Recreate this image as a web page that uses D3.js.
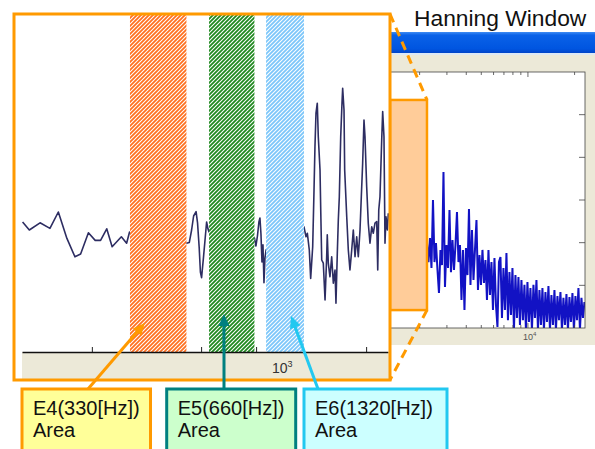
<!DOCTYPE html>
<html><head><meta charset="utf-8">
<script src="https://cdn.jsdelivr.net/npm/d3@7"></script>
<style>html,body{margin:0;padding:0;background:#fff;}svg{display:block;font-family:"Liberation Sans",Arial,sans-serif;}</style>
</head><body><svg id="c" width="595" height="449"></svg>
<script>
// ---------- DATA ----------
const titleText = "Hanning Window";
// zoomed spectrum (frequency Hz, level)
const zoomFreq = [126,133,145,157,168,180,192,201,214,226,236,248,259,279,291,298,
 471,482,491,499,509,515,522,527,532,540,547,554,560,565,
 814,824,834,844,851,858,865,872,879,886,894,
 1213,1233,1246,1266,1280,1301,1315,1325,1336,1350,1361,1380,1388,1399,1417,1437,1456,1463,1475,1495,
 1516,1536,1557,1569,1586,1599,1612,1630,1647,1656,1674,1683,1711,1733,1756,1781,1804,1829,1854,1878,
 1904,1924,1945,1966,1982,2009,2035,2063,2092,2119,2148,2178,2196,2214,2236,2267,2285,2309,2328,2347,2372,2391];
const zoomLevel = [32.5,30.5,32.3,30.9,35,28.4,23.8,24.5,29.8,27.9,27.9,30.8,26.3,28.8,27.2,30,
 27.2,27.4,30.5,34,35.1,32.3,26,20,18.6,23.5,28,32.5,30.8,30,
 28.5,26.5,29,32.5,33.5,29.5,22.5,26.8,17.3,23.5,25.5,
 31.3,28.8,29.7,25.5,18.4,26.3,40.5,51.3,59.7,62.2,53.8,45.5,35.5,23,22.2,13,23.8,29.3,22.2,18.8,
 23.8,17.2,20.5,12.2,24.7,33,38.8,53.8,62.2,65.9,60.5,45.5,33.8,25.5,20.5,25.5,30.5,23.8,28.8,23.8,
 30.5,38.8,47.2,58,53.8,41.3,32.2,27.2,31.3,29.7,32.2,32.6,20.5,35.5,38.8,53,60.1,53.8,27.2,33.8,30.5,34.7];
const zoomTicks = [220, 530, 825, 2000];
const zoomLabelFreq = 1000;
// bands
const bandNames = ["E4(330[Hz])", "E5(660[Hz])", "E6(1320[Hz])"];
const bandSub = ["Area", "Area", "Area"];
const bandLow = [299, 565, 894];
const bandHigh = [471, 814, 1213];
const arrowFreq = [337, 637, 1093];
const arrowLevel = [7.25, 9.5, 9];
// full spectrum (background window)
const fullFreq = [2231,2281,2333,2385,2439,2494,2550,2608,2666,2726,2788,2851,2915,2981,3048,3117,3187,3259,3332,3407,
 3484,3562,3643,3725,3809,3894,3982,4072,4164,4258,4353,4452,4552,4655,4759,4867,4976,5088,5203,5320,
 5440,5563,5688,5816,5947,6081,6218,6358,6501,6648,6798,6951,7107,7267,7431,7598,7770,7945,8124,8307,
 8494,8685,8881,9081,9286,9495,9709,9928,10152,10380,10614,10854,11098,11348,11604,11866,12133,12406,12686,12972,
 13264,13563,13869,14181,14501,14828,15162,15504,15853,16210,16576,16949,17331,17722,18121,18530,18947,19374,19811,20257,
 20714,21181,21658,22146,22645,23155];
const fullLevel = [-80.2,-89.1,-77.8,-91.9,-60.0,-89.1,-80.2,-92.8,-103.6,-83.4,-90.5,-46.9,-100.8,-81.1,-91.9,-64.7,-93.8,-78.8,-92.8,-81.1,
 -65.6,-89.1,-81.1,-106.9,-83.4,-111.6,-82.5,-95.2,-64.2,-99.8,-74.1,-97.5,-83.4,-69.4,-102.2,-85.8,-99.8,-83.4,-98.9,-88.1,
 -106.9,-83.4,-104.5,-89.1,-111.6,-87.2,-109.2,-119.5,-89.1,-86.7,-115.3,-91.9,-111.6,-84.8,-116.3,-93.8,-113.9,-91.9,-121,-95.2,
 -115.3,-96.1,-118.6,-97.5,-116.3,-99.8,-121,-98.4,-117.2,-101.3,-121,-99.8,-115.3,-97.5,-121,-102.2,-118.6,-101.3,-121,-103.1,
 -117.2,-100.3,-121,-104.5,-118.6,-102.2,-121,-105.0,-116.3,-103.1,-121,-105.9,-118.6,-104.1,-121,-105.5,-117.2,-103.6,-121,-105.0,
 -116.3,-101.3,-121,-105.9,-115.3,-107.8];
const fullXTicks = [2000,3000,4000,5000,6000,7000,8000,9000,10000,20000];
const fullMajor = 10000;
const fullYTicks = [-20,-40,-60,-80,-100];
const selFreq = [1287, 2231];
const selLevel = [-111.6, -13.1];

// ---------- DRAW ----------
const svg = d3.select("#c");
const defs = svg.append("defs");
const ORANGE = "#FF9A00";

// background window
const bx = d3.scaleLog().domain([528, 23350]).range([330, 585]);
const by = d3.scaleLinear().domain([-120, 0]).range([328, 72]);

const grad = defs.append("linearGradient").attr("id","tb").attr("x1",0).attr("y1",0).attr("x2",0).attr("y2",1);
grad.append("stop").attr("offset","0%").attr("stop-color","#3f8cf3");
grad.append("stop").attr("offset","15%").attr("stop-color","#0a62e8");
grad.append("stop").attr("offset","80%").attr("stop-color","#0055e0");
grad.append("stop").attr("offset","100%").attr("stop-color","#0044c8");

svg.append("rect").attr("x",300).attr("y",53).attr("width",295).attr("height",292).attr("fill","#ECE9D8");
svg.append("rect").attr("x",300).attr("y",32).attr("width",295).attr("height",21).attr("fill","url(#tb)");
svg.append("rect").attr("x",300).attr("y",53).attr("width",295).attr("height",2).attr("fill","#dde8f5");
svg.append("rect").attr("x",bx.range()[0]).attr("y",by(0)).attr("width",bx.range()[1]-bx.range()[0])
  .attr("height",by(-120)-by(0)).attr("fill","#fff");

defs.append("clipPath").attr("id","clipB").append("rect")
  .attr("x",bx.range()[0]).attr("y",by(0)).attr("width",bx.range()[1]-bx.range()[0]).attr("height",by(-120)-by(0));
const fullData = fullFreq.map((f,i)=>[f, fullLevel[i]]);
svg.append("path").datum(fullData).attr("clip-path","url(#clipB)")
  .attr("d", d3.line().x(d=>bx(d[0])).y(d=>by(d[1])))
  .attr("fill","none").attr("stroke","#1212c4").attr("stroke-width",2).attr("stroke-linejoin","bevel");

const bAx = svg.append("g").attr("stroke","#444").attr("stroke-width",0.8);
bAx.append("rect").attr("x",bx.range()[0]).attr("y",by(0)).attr("width",bx.range()[1]-bx.range()[0])
  .attr("height",by(-120)-by(0)).attr("fill","none");
fullXTicks.forEach(t=>{
  const len = t===fullMajor?5:3;
  bAx.append("line").attr("x1",bx(t)).attr("x2",bx(t)).attr("y1",by(0)).attr("y2",by(0)+len);
  bAx.append("line").attr("x1",bx(t)).attr("x2",bx(t)).attr("y1",by(-120)).attr("y2",by(-120)-len);
});
fullYTicks.forEach(t=>{
  bAx.append("line").attr("x1",bx.range()[1]).attr("x2",bx.range()[1]-6).attr("y1",by(t)).attr("y2",by(t));
});
const bl = svg.append("text").attr("x",bx(fullMajor)-5).attr("y",by(-120)+12).attr("font-size",9).attr("fill","#555");
bl.append("tspan").text("10");
bl.append("tspan").attr("font-size",6).attr("dy",-4).text("4");

// selection rectangle
svg.append("rect").attr("x",bx(selFreq[0])).attr("y",by(selLevel[1]))
  .attr("width",bx(selFreq[1])-bx(selFreq[0])).attr("height",by(selLevel[0])-by(selLevel[1]))
  .attr("fill","#FFCC99").attr("stroke",ORANGE).attr("stroke-width",2.5);

// zoom box
const box = {x:14, y:14, w:376, h:366};
const zx = d3.scaleLog().domain([125.4, 2385]).range([22, 388]);
const zy = d3.scaleLinear().domain([0, 84]).range([352, 16]);

// dashed connectors
svg.append("line").attr("x1",box.x+box.w).attr("y1",box.y).attr("x2",bx(selFreq[1])).attr("y2",by(selLevel[1]))
  .attr("stroke",ORANGE).attr("stroke-width",3).attr("stroke-dasharray","9,6");
svg.append("line").attr("x1",bx(selFreq[1])).attr("y1",by(selLevel[0])).attr("x2",box.x+box.w).attr("y2",box.y+box.h)
  .attr("stroke",ORANGE).attr("stroke-width",3).attr("stroke-dasharray","9,6");

svg.append("rect").attr("x",box.x).attr("y",box.y).attr("width",box.w).attr("height",box.h).attr("fill","#fff");
svg.append("rect").attr("x",zx.range()[0]).attr("y",zy(0)).attr("width",box.x+box.w-zx.range()[0]).attr("height",box.y+box.h-zy(0))
  .attr("fill","#ECE9D8");

defs.append("clipPath").attr("id","clipZ").append("rect").attr("x",16).attr("y",16).attr("width",373).attr("height",zy(0)-16);
const zoomData = zoomFreq.map((f,i)=>[f, zoomLevel[i]]);
svg.append("path").datum(zoomData).attr("clip-path","url(#clipZ)")
  .attr("d", d3.line().x(d=>zx(d[0])).y(d=>zy(d[1])))
  .attr("fill","none").attr("stroke","#2d2d62").attr("stroke-width",1.6).attr("stroke-linejoin","round");

// hatches
const hatchColors = ["#FF7020", "#1F891F", "#7CC6FA"];
hatchColors.forEach((c,i)=>{
  const p = defs.append("pattern").attr("id","h"+i).attr("patternUnits","userSpaceOnUse").attr("width",4).attr("height",4);
  p.append("rect").attr("width",4).attr("height",4).attr("fill","#fff");
  p.append("path").attr("d","M-1,1 l2,-2 M0,4 l4,-4 M3,5 l2,-2").attr("stroke",c).attr("stroke-width",1.8);
});
bandLow.forEach((lo,i)=>{
  svg.append("rect").attr("x",zx(lo)).attr("y",box.y+1).attr("width",zx(bandHigh[i])-zx(lo))
    .attr("height",zy(0)-box.y-1).attr("fill","url(#h"+i+")");
});

// zoom axis
const ax = d3.axisBottom(zx).tickValues(zoomTicks).tickSizeInner(-5).tickSizeOuter(0).tickFormat("");
const axg = svg.append("g").attr("transform",`translate(0,${zy(0)})`).call(ax);
axg.select(".domain").attr("stroke","#111").attr("stroke-width",1.5);
axg.selectAll(".tick line").attr("stroke","#222").attr("stroke-width",1);
const zl = svg.append("text").attr("x",zx(zoomLabelFreq)-8).attr("y",373).attr("font-size",14).attr("fill","#333");
zl.append("tspan").text("10");
zl.append("tspan").attr("font-size",9).attr("dy",-6).text("3");

svg.append("rect").attr("x",box.x).attr("y",box.y).attr("width",box.w).attr("height",box.h)
  .attr("fill","none").attr("stroke",ORANGE).attr("stroke-width",3);

// annotation boxes
const boxX = [22, 166.7, 304];
const boxW = [128.5, 129, 143];
const boxFill = ["#FFFF99", "#CCFFCC", "#CCFFFF"];
const boxStroke = [ORANGE, "#008080", "#22C8F0"];
const arrowStart = [88, 224, 318];

function arrow(x1,y1,x2,y2,color){
  const dx=x2-x1, dy=y2-y1, L=Math.hypot(dx,dy), ux=dx/L, uy=dy/L;
  const hl=12, hw=5.5;
  const bxp=x2-ux*hl, byp=y2-uy*hl;
  svg.append("line").attr("x1",x1).attr("y1",y1).attr("x2",bxp+ux*2).attr("y2",byp+uy*2)
    .attr("stroke",color).attr("stroke-width",3);
  svg.append("path").attr("d",`M${x2},${y2}L${bxp-uy*hw},${byp+ux*hw}L${bxp+uy*hw},${byp-ux*hw}Z`).attr("fill",color);
}
bandNames.forEach((n,i)=>{
  arrow(arrowStart[i], 389, zx(arrowFreq[i]), zy(arrowLevel[i]), boxStroke[i]);
  svg.append("rect").attr("x",boxX[i]).attr("y",389).attr("width",boxW[i]).attr("height",80)
    .attr("fill",boxFill[i]).attr("stroke",boxStroke[i]).attr("stroke-width",3);
  const t = svg.append("text").attr("font-size",20).attr("fill","#111");
  t.append("tspan").attr("x",boxX[i]+11).attr("y",415).text(n);
  t.append("tspan").attr("x",boxX[i]+11).attr("y",437).text(bandSub[i]);
});

svg.append("text").attr("x",414).attr("y",26).attr("font-size",22.8).attr("fill","#111").text(titleText);
</script></body></html>
